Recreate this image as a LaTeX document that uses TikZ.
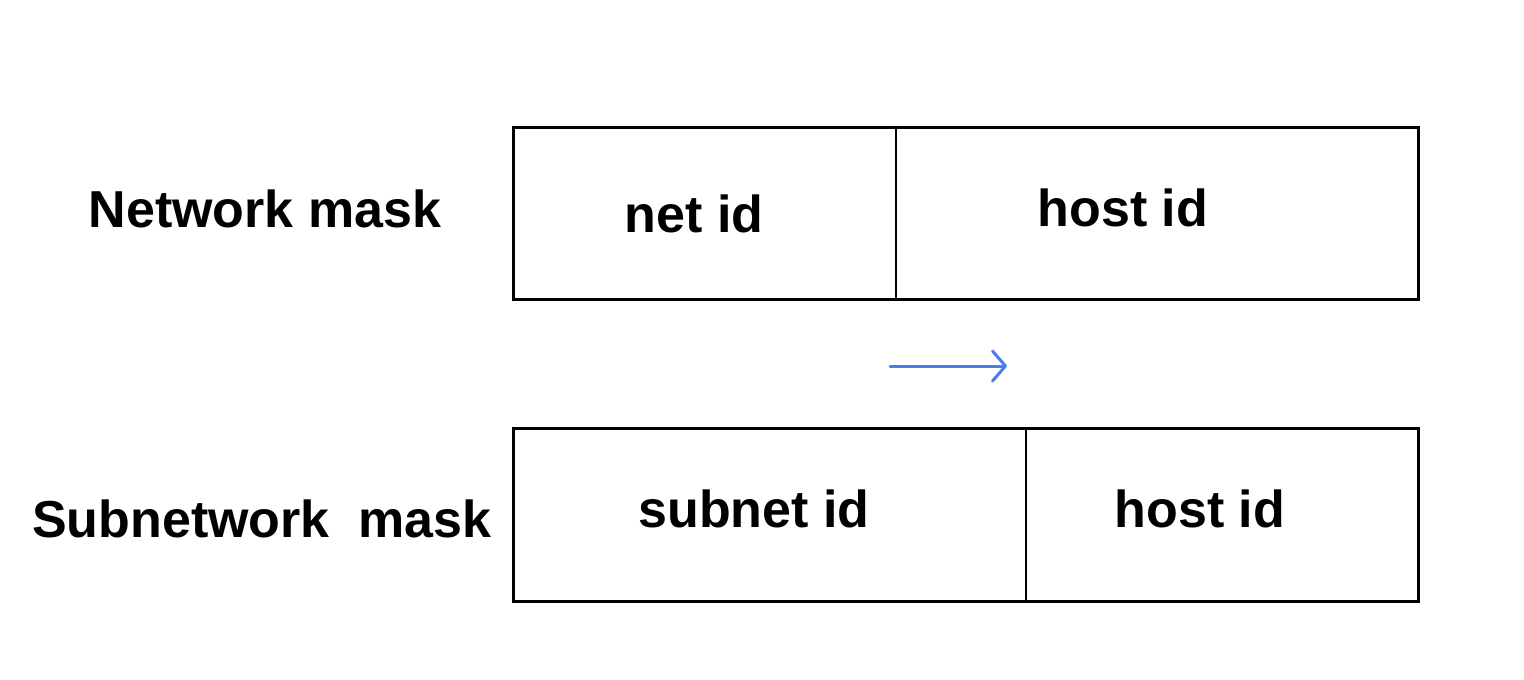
\documentclass[tikz,border=0pt]{standalone}
\usepackage{fontspec}
\setmainfont{Liberation Sans}
\usetikzlibrary{arrows.meta}
\begin{document}
\begin{tikzpicture}[x=1pt,y=-1pt,
  cell/.style={draw,line width=2pt,inner sep=0pt,minimum height=172pt,anchor=north west},
  lbl/.style={font=\fontsize{52}{60}\selectfont\bfseries,anchor=base,inner sep=0pt},
  arr/.style={line width=3pt,color=arrblue,line cap=round,-{Straight Barb[length=13pt,width=30pt,line width=3pt,round]}}]
\definecolor{arrblue}{HTML}{4A7CF0}
\useasboundingbox (0,0) rectangle (1524,680);
% top row
\node[cell,minimum width=382pt] (netcell) at (513,127) {};
\node[cell,minimum width=523pt] (hostcellA) at (895,127) {};
\draw[line width=3pt] (513,127) rectangle (1418,299);
% bottom row
\node[cell,minimum width=512pt] (subcell) at (513,428) {};
\node[cell,minimum width=393pt] (hostcellB) at (1025,428) {};
\draw[line width=3pt] (513,428) rectangle (1418,601);
% labels
\node[lbl] (netmask) at (265,227) {Network mask};
\node[lbl] (subnetmask) at (262,537) {Subnetwork\ \ mask};
\node[lbl] (netid) at (694,232) {net id};
\node[lbl] (hostidA) at (1123,226) {host id};
\node[lbl] (subnetid) at (754,527) {subnet id};
\node[lbl] (hostidB) at (1200,527) {host id};
% arrow
\coordinate (a1) at (890,366);
\coordinate (a2) at (1007,366);
\draw[arr] (a1) -- (a2);
\end{tikzpicture}
\end{document}
